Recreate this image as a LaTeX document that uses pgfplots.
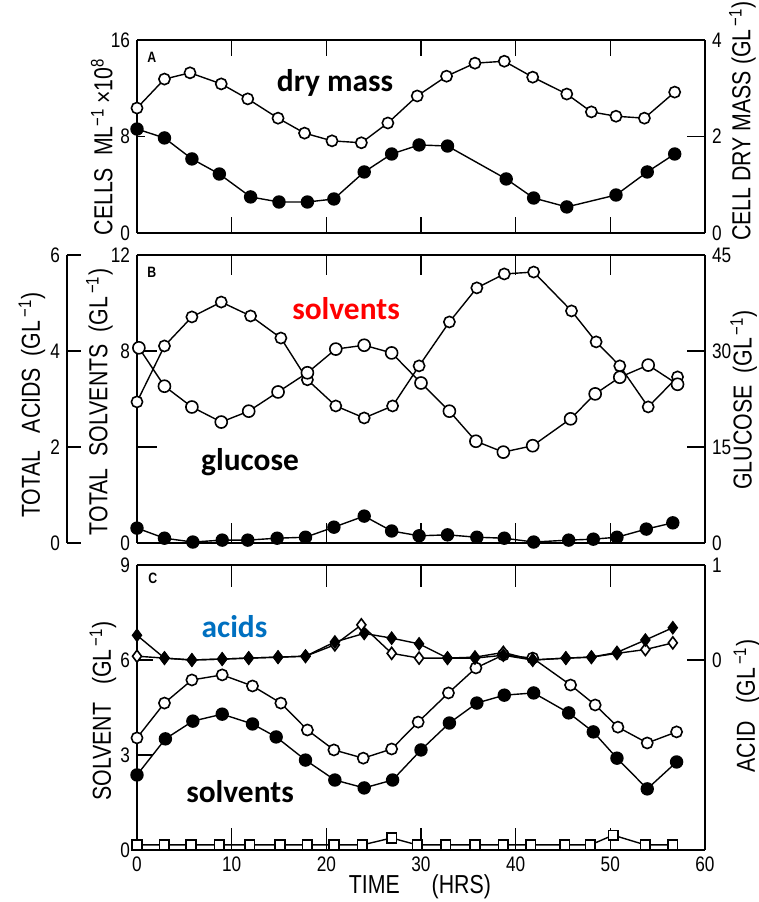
\documentclass[border=0pt]{standalone}
\usepackage{pgfplots}
\pgfplotsset{compat=1.18}
\usepackage{fontspec}
\setmainfont{Liberation Sans}[FakeStretch=0.82]
\newfontfamily\annot{Carlito}
\definecolor{annred}{HTML}{FF0000}
\definecolor{annblue}{HTML}{0070C0}
\newcommand{\gl}{(GL\textsuperscript{\,−1})}
\begin{document}
\begin{tikzpicture}
\path[use as bounding box] (0,0) rectangle (379.5pt,451pt);
\pgfplotsset{
  panel/.style={scale only axis, width=284pt, xmin=0, xmax=60, clip=false,
    axis line style={line width=0.9pt},
    every tick/.style={line width=0.8pt, black},
    tick align=inside,
    /pgf/number format/assume math mode=true,
    tick label style={font=\fontsize{10.5}{12}\selectfont},
    label style={font=\fontsize{13}{15}\selectfont},
    every axis plot/.append style={line width=0.7pt, black},
  },
  oc/.style={mark=*, mark size=2.8pt, mark options={fill=white, draw=black, line width=0.8pt}},
  fc/.style={mark=*, mark size=3pt, mark options={fill=black, draw=black}},
  od/.style={mark=diamond*, mark size=3pt, mark options={fill=white, draw=black, line width=0.8pt}},
  fd/.style={mark=diamond*, mark size=3pt, mark options={fill=black, draw=black}},
  os/.style={mark=square*, mark size=2.4pt, mark options={fill=white, draw=black, line width=0.8pt}},
}
% ---------------- Panel A ----------------
\begin{axis}[panel, at={(68.5pt,334.5pt)}, anchor=south west, height=96.5pt,
  ymin=0, ymax=16, ytick={0,8,16},
  xtick={10,20,30,40,50}, xticklabels={},
  xtick style={/pgfplots/major tick length=8pt},
  ytick style={/pgfplots/major tick length=4pt},
  ylabel={CELLS\ \ ML\textsuperscript{−1}\,×10\textsuperscript{8}},
  ylabel style={at={(axis description cs:-0.062,0.446)}, anchor=center},
  axis y line*=left]
\addplot[fc] coordinates {(0,8.62) (2.9,7.88) (5.8,6.14) (8.7,4.89) (12,2.99) (15,2.57) (18,2.57) (20.8,2.82) (24,5.06) (26.9,6.55) (29.8,7.30) (32.8,7.21) (39,4.48) (41.9,2.90) (45.4,2.16) (50.6,3.15) (53.9,5.06) (56.8,6.55)};
\node[font=\fontsize{7.5}{9}\selectfont\bfseries] at (axis description cs:0.026,0.91) {A};
\end{axis}
\begin{axis}[panel, at={(68.5pt,334.5pt)}, anchor=south west, height=96.5pt,
  ymin=0, ymax=4, ytick={0,2,4},
  axis y line*=right, axis x line*=top, xtick=\empty,
  ytick style={/pgfplots/major tick length=9pt},
  ylabel={CELL DRY MASS \gl},
  ylabel style={at={(axis description cs:1.066,0.58)}, anchor=center}]
\addplot[oc] coordinates {(0,2.59) (2.9,3.19) (5.6,3.32) (8.9,3.09) (11.7,2.78) (14.9,2.38) (17.7,2.07) (20.6,1.91) (23.7,1.87) (26.5,2.28) (29.6,2.84) (32.7,3.25) (35.7,3.52) (38.8,3.56) (41.8,3.23) (45.4,2.88) (48.0,2.51) (50.6,2.42) (53.6,2.38) (56.8,2.92)};
\end{axis}
% ---------------- Panel B ----------------
\begin{axis}[panel, at={(68.5pt,179.5pt)}, anchor=south west, height=144pt,
  ymin=0, ymax=12, ytick={0,4,8,12}, yticklabels={0,,8,12},
  xtick={10,20,30,40,50}, xticklabels={},
  xtick style={/pgfplots/major tick length=10pt},
  ytick style={/pgfplots/major tick length=10pt},
  ylabel={TOTAL\ \ SOLVENTS\ \ \gl},
  ylabel style={at={(axis description cs:-0.066,0.49)}, anchor=center},
  axis y line*=left]
\addplot[oc] coordinates {(0,5.88) (2.9,8.21) (5.8,9.42) (8.9,10.04) (12,9.46) (15.2,8.54) (18,6.8) (21,5.71) (24,5.21) (27,5.71) (29.8,7.38) (33,9.21) (35.9,10.63) (38.8,11.21) (41.9,11.29) (45.9,9.67) (48.5,8.38) (51,7.38) (54,5.67) (57.1,6.92)};
\node[font=\fontsize{7.5}{9}\selectfont\bfseries] at (axis description cs:0.026,0.94) {B};
\end{axis}
\begin{axis}[panel, at={(68.5pt,179.5pt)}, anchor=south west, height=144pt,
  ymin=0, ymax=45, ytick={0,15,30,45},
  axis y line*=right, axis x line*=top, xtick=\empty,
  ytick style={/pgfplots/major tick length=9pt},
  ylabel={GLUCOSE\ \ \gl},
  ylabel style={at={(axis description cs:1.068,0.497)}, anchor=center}]
\addplot[od, mark=*] coordinates {(0.2,30.5) (2.9,24.5) (5.8,21.25) (8.9,18.9) (11.8,20.6) (14.9,23.6) (18,26.6) (21,30.3) (24,30.9) (26.9,29.7) (30,25.0) (33,20.6) (35.8,15.9) (38.7,14.2) (41.8,15.2) (45.8,19.4) (48.4,23.3) (51,25.9) (54,27.8) (57.1,24.8)};
\end{axis}
% outer acids axis, x range extended so that t=0 sits on the inner axis
\begin{axis}[panel, at={(33.5pt,179.5pt)}, anchor=south west, width=319pt, height=144pt,
  xmin=-7.3944, xmax=60,
  ymin=0, ymax=6, ytick={0,2,4,6},
  axis y line*=left, axis x line=none,
  ytick style={/pgfplots/major tick length=7pt},
  ylabel={TOTAL\ \ \ ACIDS\ \ \gl},
  ylabel style={at={(axis description cs:-0.055,0.479)}, anchor=center}]
\addplot[fc] coordinates {(0,0.31) (2.9,0.10) (5.9,0.02) (9,0.06) (11.7,0.06) (14.8,0.10) (17.8,0.12) (20.8,0.33) (24,0.56) (26.9,0.25) (29.8,0.15) (32.8,0.17) (35.9,0.12) (38.8,0.10) (41.9,0.02) (45.6,0.06) (48.2,0.08) (50.7,0.12) (53.8,0.29) (56.6,0.42)};
\end{axis}
% ---------------- Panel C ----------------
\begin{axis}[panel, at={(68.5pt,26pt)}, anchor=south west, height=142.5pt,
  ymin=0, ymax=9, ytick={0,3,6,9},
  xtick={0,10,20,30,40,50,60},
  xtick style={/pgfplots/major tick length=11pt},
  ytick style={/pgfplots/major tick length=8pt},
  ylabel={SOLVENT\ \ \ \gl},
  ylabel style={at={(axis description cs:-0.06,0.488)}, anchor=center},
  xlabel={TIME\quad\ (HRS)},
  xlabel style={at={(axis description cs:0.498,-0.13)}, anchor=center},
  axis y line*=left]
\addplot[oc] coordinates {(0,3.54) (2.9,4.64) (5.8,5.37) (9,5.53) (12.2,5.18) (15.2,4.64) (18,3.79) (20.8,3.16) (23.9,2.90) (26.9,3.19) (29.7,4.04) (32.9,4.96) (35.8,5.75) (38.7,6.16) (41.8,6.06) (45.8,5.21) (48.4,4.58) (50.8,3.88) (53.9,3.38) (57,3.73)};
\addplot[fc] coordinates {(0,2.37) (3,3.51) (5.9,4.07) (9,4.29) (12.2,3.98) (14.7,3.57) (17.8,2.84) (20.9,2.21) (24,1.96) (27,2.21) (30,3.16) (33,4.01) (35.9,4.64) (38.8,4.89) (41.9,4.96) (45.6,4.33) (48.2,3.73) (50.7,2.90) (53.9,1.93) (57,2.78)};
\addplot[os] coordinates {(0,0.16) (2.9,0.16) (5.7,0.16) (8.7,0.16) (11.9,0.16) (15.1,0.16) (18,0.16) (20.8,0.16) (23.8,0.16) (26.9,0.38) (29.6,0.16) (32.6,0.16) (35.7,0.16) (38.7,0.16) (41.6,0.16) (45.2,0.16) (47.9,0.16) (50.3,0.47) (53.7,0.16) (56.6,0.16)};
\node[font=\fontsize{7.5}{9}\selectfont\bfseries] at (axis description cs:0.028,0.954) {C};
\end{axis}
\begin{axis}[panel, at={(68.5pt,26pt)}, anchor=south west, height=142.5pt,
  ymin=-2, ymax=1, ytick={0,1},
  axis y line*=right, axis x line*=top, xtick=\empty,
  ytick style={/pgfplots/major tick length=9pt},
  ylabel={ACID\ \ \ \gl},
  ylabel style={at={(axis description cs:1.074,0.505)}, anchor=center}]
\addplot[od] coordinates {(0,0.04) (2.9,0.02) (5.8,0) (9,0.01) (11.8,0.02) (14.9,0.03) (17.8,0.04) (20.9,0.16) (23.7,0.37) (26.9,0.07) (29.8,0.02) (32.8,0.02) (35.7,0.03) (38.7,0.08) (41.8,0) (45.3,0.02) (48,0.03) (50.7,0.07) (53.7,0.11) (56.6,0.18)};
\addplot[fd] coordinates {(0,0.26) (2.9,0.02) (5.8,0) (9,0.01) (11.8,0.02) (14.9,0.03) (17.8,0.04) (20.9,0.19) (24,0.28) (26.9,0.23) (29.8,0.17) (32.8,0.02) (35.7,0.02) (38.7,0.05) (41.8,0) (45.3,0.02) (48,0.03) (50.7,0.08) (53.7,0.21) (56.6,0.34)};
\end{axis}
% ---------------- annotations ----------------
\node[anchor=base, font=\annot\fontsize{15.7}{18}\selectfont\bfseries] at (167.5pt,405pt) {dry mass};
\node[anchor=base, font=\annot\fontsize{15.7}{18}\selectfont\bfseries, text=annred] at (173pt,291pt) {solvents};
\node[anchor=base, font=\annot\fontsize{15.7}{18}\selectfont\bfseries] at (125pt,215.5pt) {glucose};
\node[anchor=base, font=\annot\fontsize{15.7}{18}\selectfont\bfseries, text=annblue] at (117.25pt,132pt) {acids};
\node[anchor=base, font=\annot\fontsize{15.7}{18}\selectfont\bfseries] at (120pt,49.5pt) {solvents};
\end{tikzpicture}
\end{document}
